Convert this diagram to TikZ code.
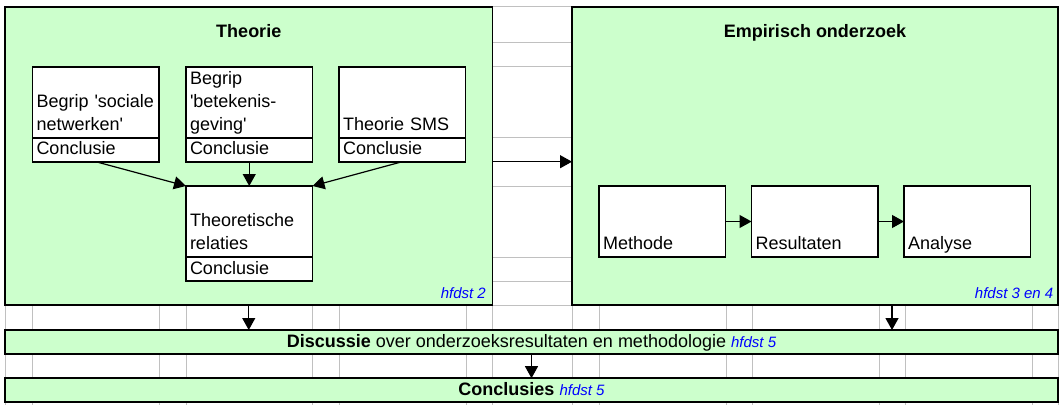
\documentclass[tikz,border=0pt]{standalone}
\usepackage{fontspec}
\setmainfont{Liberation Sans}[Ligatures=TeXOff]
\usetikzlibrary{positioning,arrows.meta}

\definecolor{lichtgroen}{HTML}{CCFFCC}
\definecolor{hfblauw}{HTML}{0000FF}
\definecolor{rooster}{HTML}{C0C0C0}

% cell text sits on the bottom line, like in a spreadsheet
\newcommand{\regels}[1]{\begin{tabular}[b]{@{}l@{}}#1\end{tabular}}
\newcommand{\hfdst}[1]{{\color{hfblauw}\fontsize{15}{18}\selectfont\itshape hfdst #1}}

\begin{document}
\begin{tikzpicture}[x=1pt, y=-1pt,
		font=\fontsize{18}{22.7}\selectfont,
		>={Triangle[length=12pt,width=13pt]},
		pijl/.style = {->, line width=1.2pt},
		blok/.style = {draw, line width=1.8pt, fill=lichtgroen, anchor=north west, inner sep=0pt, outer sep=0pt},
		cel/.style = {draw, line width=1.6pt, fill=white, anchor=north west, inner sep=0pt, inner xsep=4pt, outer sep=0pt, text width=118.5pt, align=left},
		hoog/.style = {cel, minimum height=71pt, text height=63.5pt, text depth=7.5pt},
		conc/.style = {cel, minimum height=24pt, text height=10pt, text depth=0pt},
		balk/.style = {blok, minimum width=1053pt, minimum height=24pt, text height=10pt, text depth=0pt},
		titel/.style = {font=\fontsize{18}{22.7}\selectfont\bfseries, inner sep=0pt}]
		\useasboundingbox (0,0) rectangle (1060,405);
		%% GRID
		\foreach \x in {5,32.5,159,186,312.5,339,466,492.5,572,599,726,752,879,905,1032,1058}
			\draw[rooster, line width=1pt] (\x,6.7) -- (\x,405);
		\foreach \y in {6.7,42.3,66.7,137.7,161.7,186,257,281,305,330,353.5,377.7,401.7}
			\draw[rooster, line width=1pt] (5,\y) -- (1058,\y);
		%% NODES
		% Blocks
		\node[blok, minimum width=487.5pt, minimum height=298.3pt] (theorie) at (5,6.7) {};
		\node[blok, minimum width=486pt, minimum height=298.3pt, right=79.5pt of theorie] (empirisch) {};
		\node[titel, anchor=base] (theorietitel) at ([yshift=-30.3pt]theorie.north) {Theorie};
		\node[titel, anchor=base] (empirischtitel) at ([yshift=-30.3pt]empirisch.north) {Empirisch onderzoek};
		\node[anchor=base east, inner sep=0pt] (hfdst2) at ([xshift=-6.5pt,yshift=6.7pt]theorie.south east) {\hfdst{2}};
		\node[anchor=base east, inner sep=0pt] (hfdst34) at ([xshift=-4.5pt,yshift=6.7pt]empirisch.south east) {\hfdst{3 en 4}};
		% Theorie
		\node[hoog] (soc) at (32.5,66.7) {\regels{Begrip 'sociale\\netwerken'}};
		\node[conc, below=0pt of soc] (socc) {Conclusie};
		\node[hoog, right=27pt of soc] (bet) {\regels{Begrip\\'betekenis-\\geving'}};
		\node[conc, below=0pt of bet] (betc) {Conclusie};
		\node[hoog, right=26.5pt of bet] (sms) {\regels{Theorie SMS}};
		\node[conc, below=0pt of sms] (smsc) {Conclusie};
		\node[hoog, below=24.3pt of betc] (rel) {\regels{Theoretische\\relaties}};
		\node[conc, below=0pt of rel] (relc) {Conclusie};
		% Empirisch onderzoek
		\node[hoog] (meth) at (599,186) {\regels{Methode}};
		\node[hoog, right=26pt of meth] (res) {\regels{Resultaten}};
		\node[hoog, right=26pt of res] (ana) {\regels{Analyse}};
		% Bars
		\node[balk] (disc) at (5,330) {\textbf{Discussie} over onderzoeksresultaten en methodologie \hfdst{5}};
		\node[balk, below=24.2pt of disc] (concl) {\textbf{Conclusies} \hfdst{5}};
		%% ARROWS
		\draw[pijl] (socc.south) -- (rel.north west);
		\draw[pijl] (betc.south) -- (rel.north);
		\draw[pijl] (smsc.south) -- (rel.north east);
		\draw[pijl] (theorie.east |- socc.south) -- (empirisch.west |- socc.south);
		\draw[pijl] (meth) -- (res);
		\draw[pijl] (res) -- (ana);
		\draw[pijl] (theorie.south) -- (theorie.south |- disc.north);
		\draw[pijl] ([xshift=77pt]empirisch.south) -- ([xshift=77pt]empirisch.south |- disc.north);
		\draw[pijl] (disc) -- (concl);
	\end{tikzpicture}
\end{document}
